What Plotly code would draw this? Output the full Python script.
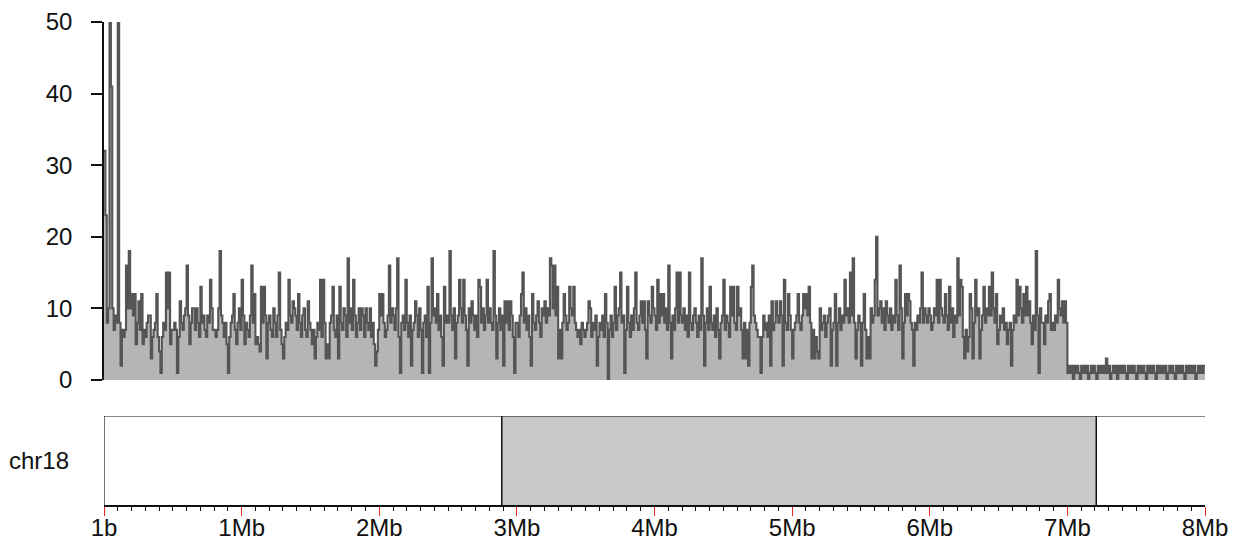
import plotly.graph_objects as go

# ---------------- data ----------------
bin_size_mb = 0.01  # coverage bins, in Mb
coverage = [
    32, 23, 8, 10, 50, 41, 10, 7, 9, 8,
    50, 8, 2, 7, 6, 7, 16, 10, 18, 10,
    12, 9, 12, 5, 8, 11, 7, 12, 5, 7,
    6, 8, 9, 9, 3, 6, 7, 8, 12, 6,
    4, 1, 6, 8, 7, 15, 10, 15, 5, 7,
    7, 8, 7, 1, 6, 11, 8, 7, 9, 10,
    16, 9, 5, 8, 10, 10, 7, 10, 8, 6,
    13, 8, 9, 7, 6, 9, 8, 14, 10, 7,
    7, 6, 7, 10, 18, 9, 8, 6, 8, 5,
    1, 6, 8, 9, 12, 7, 5, 8, 10, 7,
    14, 9, 5, 8, 7, 6, 9, 16, 8, 12,
    5, 6, 5, 4, 13, 8, 13, 9, 3, 8,
    9, 7, 6, 10, 8, 6, 9, 15, 7, 5,
    3, 6, 8, 7, 14, 9, 8, 11, 10, 9,
    7, 12, 8, 6, 9, 10, 7, 6, 11, 8,
    7, 5, 7, 3, 6, 8, 7, 14, 6, 14,
    8, 3, 5, 3, 8, 9, 13, 7, 6, 9,
    3, 13, 8, 7, 10, 9, 6, 17, 8, 10,
    7, 14, 9, 6, 8, 10, 7, 10, 9, 6,
    10, 8, 7, 10, 6, 8, 5, 2, 4, 7,
    12, 9, 12, 8, 6, 7, 9, 16, 8, 10,
    9, 7, 10, 17, 6, 1, 8, 9, 7, 14,
    8, 6, 9, 2, 7, 8, 11, 9, 6, 10,
    7, 1, 8, 9, 6, 13, 1, 8, 17, 9,
    10, 8, 12, 7, 9, 6, 2, 13, 8, 9,
    8, 18, 9, 7, 10, 3, 8, 9, 14, 10,
    8, 14, 9, 7, 2, 10, 8, 11, 9, 7,
    9, 6, 14, 13, 8, 10, 7, 9, 14, 8,
    10, 8, 7, 18, 9, 3, 8, 10, 7, 9,
    2, 11, 8, 11, 7, 11, 9, 6, 1, 8,
    8, 6, 9, 12, 15, 8, 10, 7, 9, 6,
    2, 12, 8, 7, 9, 11, 8, 6, 10, 9,
    11, 8, 10, 9, 17, 16, 10, 16, 9, 13,
    3, 7, 3, 8, 12, 9, 7, 8, 13, 10,
    9, 13, 8, 7, 6, 7, 5, 8, 7, 6,
    7, 8, 11, 10, 6, 8, 7, 9, 2, 6,
    8, 7, 9, 6, 12, 8, 0, 7, 9, 6,
    8, 13, 7, 9, 10, 15, 8, 9, 1, 7,
    13, 8, 6, 9, 7, 10, 15, 8, 7, 9,
    11, 8, 11, 7, 3, 11, 9, 8, 13, 10,
    9, 7, 14, 8, 12, 9, 12, 8, 10, 7,
    16, 8, 3, 9, 7, 10, 15, 8, 15, 9,
    8, 10, 7, 9, 6, 15, 8, 7, 9, 10,
    8, 6, 9, 7, 17, 9, 2, 8, 10, 7,
    13, 8, 7, 9, 6, 10, 7, 3, 8, 9,
    14, 7, 9, 8, 6, 13, 9, 13, 8, 7,
    13, 9, 10, 7, 3, 8, 3, 7, 2, 8,
    13, 16, 9, 8, 7, 6, 6, 1, 6, 9,
    7, 8, 6, 9, 2, 11, 7, 8, 11, 9,
    8, 11, 9, 2, 14, 8, 7, 12, 9, 7,
    3, 7, 8, 9, 12, 8, 7, 9, 12, 10,
    12, 9, 13, 8, 3, 7, 3, 6, 4, 3,
    10, 7, 8, 9, 6, 8, 9, 10, 2, 7,
    8, 12, 2, 8, 10, 7, 9, 8, 14, 9,
    10, 8, 15, 9, 17, 8, 3, 7, 9, 8,
    2, 8, 12, 7, 3, 6, 3, 10, 8, 9,
    14, 20, 9, 10, 11, 8, 10, 7, 11, 9,
    8, 10, 7, 9, 8, 14, 9, 7, 16, 10,
    3, 8, 12, 9, 12, 11, 8, 7, 2, 8,
    7, 9, 8, 10, 15, 8, 10, 9, 8, 10,
    9, 7, 8, 10, 9, 14, 8, 14, 10, 9,
    8, 12, 9, 7, 13, 8, 10, 6, 9, 8,
    17, 9, 14, 13, 6, 3, 7, 4, 6, 12,
    10, 3, 8, 14, 9, 10, 3, 7, 9, 13,
    8, 10, 9, 13, 9, 15, 10, 8, 12, 5,
    7, 9, 8, 10, 7, 8, 5, 7, 8, 2,
    7, 9, 8, 14, 9, 13, 10, 8, 12, 9,
    13, 9, 11, 8, 5, 9, 7, 18, 9, 1,
    10, 8, 8, 5, 9, 8, 11, 12, 7, 8,
    7, 9, 8, 14, 10, 9, 11, 8, 11, 8,
    # low-coverage tail (7-8 Mb)
    1, 2, 1, 2, 0, 2, 1, 2, 1, 0,
    2, 1, 2, 1, 2, 0, 1, 2, 1, 2,
    1, 0, 2, 1, 2, 1, 2, 1, 3, 1,
    2, 0, 1, 2, 1, 2, 0, 2, 1, 2,
    1, 2, 1, 0, 2, 1, 2, 1, 2, 1,
    0, 2, 1, 2, 1, 2, 1, 0, 2, 1,
    2, 1, 2, 1, 0, 2, 1, 2, 1, 2,
    1, 2, 0, 1, 2, 1, 2, 1, 0, 2,
    1, 2, 1, 2, 1, 0, 2, 1, 2, 1,
    2, 1, 2, 0, 1, 2, 1, 2, 1, 2,
]

y_ticks = [0, 10, 20, 30, 40, 50]
x_tick_vals = [0, 1, 2, 3, 4, 5, 6, 7, 8]
x_tick_text = ["1b", "1Mb", "2Mb", "3Mb", "4Mb", "5Mb", "6Mb", "7Mb", "8Mb"]
view_range_mb = [0, 8]
chrom_name = "chr18"
region_start_mb = [2.89]
region_end_mb = [7.21]

# ---------------- figure ----------------
positions = [i * bin_size_mb for i in range(len(coverage))] + [len(coverage) * bin_size_mb]
values = coverage + [coverage[-1]]

FONT = "Liberation Sans, Arial, sans-serif"
FS = 24
fig = go.Figure()
fig.add_trace(go.Scatter(
    x=positions, y=values, mode="lines", line_shape="hv",
    line=dict(color="#555555", width=2.1),
    fill="tozeroy", fillcolor="#b5b5b5",
    xaxis="x", yaxis="y", showlegend=False, hoverinfo="skip",
))

shapes = []
for s, e in zip(region_start_mb, region_end_mb):
    shapes.append(dict(type="rect", xref="x2", yref="y2", x0=s, x1=e, y0=0, y1=1,
                       fillcolor="#c8c8c8", line=dict(width=0), layer="below"))
    for edge in (s, e):
        shapes.append(dict(type="line", xref="x2", yref="y2", x0=edge, x1=edge, y0=0, y1=1,
                           line=dict(color="#111111", width=1.5)))
shapes.append(dict(type="line", xref="x2", yref="y2", x0=view_range_mb[0], x1=view_range_mb[1],
                   y0=1, y1=1, line=dict(color="#111111", width=1.2)))
shapes.append(dict(type="line", xref="x2", yref="y2", x0=view_range_mb[0], x1=view_range_mb[0],
                   y0=0, y1=1, line=dict(color="#111111", width=1.2)))

# the page body adds an 8px offset, so the figure is 8px smaller on each axis
OFF = 8
W, H = 1244 - OFF, 544 - OFF
ml, mr, mt, mb = 104 - OFF, 39, 22 - OFF, 39
ph = H - mt - mb
bottom_px = 505  # page y of x-axis line
top_lo = (bottom_px - 380) / ph
bot_hi = (bottom_px - 416) / ph

fig.update_layout(
    width=W, height=H,
    margin=dict(l=ml, r=mr, t=mt, b=mb, autoexpand=False),
    paper_bgcolor="white", plot_bgcolor="white",
    font=dict(family=FONT, size=FS, color="#111111"),
    shapes=shapes,
    xaxis=dict(domain=[0, 1], range=view_range_mb, anchor="y", visible=False),
    yaxis=dict(domain=[top_lo, 1], range=[0, 50], tickvals=y_ticks,
               ticks="outside", ticklen=11, tickwidth=1.5, tickcolor="#111111",
               showline=True, linecolor="#111111", linewidth=1.5,
               showgrid=False, zeroline=False, ticklabelstandoff=14,
               tickfont=dict(size=FS, family=FONT, color="#111111")),
    xaxis2=dict(domain=[0, 1], range=view_range_mb, anchor="y2",
                tickvals=x_tick_vals, ticktext=x_tick_text,
                ticks="outside", ticklen=9, tickwidth=1.2, tickcolor="#e8231e",
                showline=True, linecolor="#111111", linewidth=1.5,
                showgrid=False, zeroline=False, ticklabelstandoff=-9,
                minor=dict(dtick=0.1, tick0=0, ticks="outside", ticklen=4,
                           tickwidth=1.2, tickcolor="#111111", showgrid=False),
                tickfont=dict(size=FS, family=FONT, color="#111111")),
    yaxis2=dict(domain=[0, bot_hi], range=[0, 1], anchor="x2", visible=False),
    annotations=[dict(text=chrom_name, xref="paper", yref="y2 domain", x=0, y=0.5,
                      xanchor="right", yanchor="middle", xshift=-33, showarrow=False,
                      font=dict(size=FS, family=FONT, color="#111111"))],
)

fig.write_html("out.html")
